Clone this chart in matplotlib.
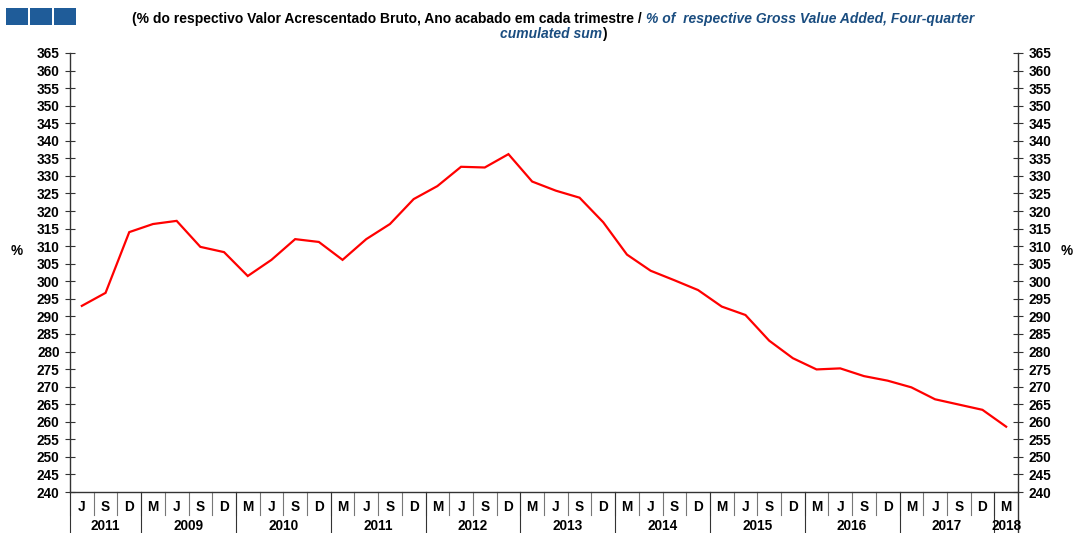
import numpy as np
import matplotlib.pyplot as plt
from matplotlib.patches import Rectangle

plt.rcParams['font.family'] = ['Liberation Sans', 'DejaVu Sans']

# Quarterly series, % of GVA (four-quarter cumulated sum)
quarters = ["J", "S", "D"] + ["M", "J", "S", "D"] * 9 + ["M"]
years = ["2011", "2009", "2010", "2011", "2012", "2013", "2014",
         "2015", "2016", "2017", "2018"]
year_len = [3, 4, 4, 4, 4, 4, 4, 4, 4, 4, 1]
values = [293.0, 296.7, 314.0, 316.3, 317.2, 309.8, 308.3, 301.5,
          306.1, 312.0, 311.2, 306.1, 312.0, 316.3, 323.4, 327.1,
          332.6, 332.4, 336.2, 328.4, 325.8, 323.8, 316.8, 307.6,
          303.0, 300.3, 297.5, 292.8, 290.4, 283.1, 278.1, 274.9,
          275.2, 273.0, 271.7, 269.8, 266.4, 264.9, 263.4, 258.6]

W, H = 1073, 533
fig = plt.figure(figsize=(W / 100, H / 100), dpi=100)
ax = fig.add_axes([70 / W, 1 - 492 / H, 948 / W, 439 / H])

x = np.arange(len(values))
ax.plot(x, values, color="#ff0000", lw=1.6, solid_joinstyle="miter")

ax.set_xlim(-0.5, len(values) - 0.5)
ax.set_ylim(240, 365)
ax.set_yticks(np.arange(240, 366, 5))
ax.set_xticks([])
ax.spines['top'].set_visible(False)
for side in ['left', 'right', 'bottom']:
    ax.spines[side].set_color("#333333")
    ax.spines[side].set_linewidth(1.0)

ax.tick_params(axis='y', which='both', direction='inout', length=7,
               width=0.8, color="#333333", labelsize=9.8,
               left=True, right=True, labelleft=True, labelright=True, pad=4)
for lab in ax.get_yticklabels():
    lab.set_fontweight('bold')

# category axis below the plot: quarters, then years
trans = ax.get_xaxis_transform()
h = 439.0
q_bot = -(515 - 492) / h
y_bot = -(533 - 492) / h
for i, q in enumerate(quarters):
    ax.text(i, -(507 - 492) / h, q, transform=trans, ha='center', va='center',
            fontsize=9.8, fontweight='bold')
    ax.plot([i - 0.5, i - 0.5], [0, q_bot], transform=trans, color="#777777",
            lw=0.8, clip_on=False)

start = -0.5
for yr, n in zip(years, year_len):
    ax.plot([start, start], [0, y_bot], transform=trans, color="#333333",
            lw=0.8, clip_on=False)
    ax.text(start + n / 2, -(526 - 492) / h, yr, transform=trans,
            ha='center', va='center', fontsize=9.8, fontweight='bold')
    start += n
ax.plot([start, start], [0, y_bot], transform=trans, color="#333333",
        lw=1.0, clip_on=False)

fig.text(17 / W, 1 - 251 / H, "%", ha='center', va='center',
         fontsize=9.8, fontweight='bold')
fig.text(1067 / W, 1 - 251 / H, "%", ha='center', va='center',
         fontsize=9.8, fontweight='bold')

# three blue squares in the corner
for x0 in [6, 30, 54]:
    fig.patches.append(Rectangle((x0 / W, 1 - 25 / H), 22 / W, 17 / H,
                                 transform=fig.transFigure,
                                 facecolor="#1f5c99", edgecolor='none'))

# two-colour subtitle
blue = "#1a4d80"
renderer = fig.canvas.get_renderer()
t1 = fig.text(132 / W, 1 - 19 / H,
              "(% do respectivo Valor Acrescentado Bruto, Ano acabado em cada trimestre / ",
              ha='left', va='center', fontsize=10, fontweight='bold')
bb = t1.get_window_extent(renderer)
fig.text(bb.x1 / W, 1 - 19 / H,
         "% of  respective Gross Value Added, Four-quarter",
         ha='left', va='center', fontsize=10, fontweight='bold',
         style='italic', color=blue)
t3 = fig.text(500 / W, 1 - 34 / H, "cumulated sum", ha='left', va='center',
              fontsize=10, fontweight='bold', style='italic', color=blue)
bb3 = t3.get_window_extent(renderer)
fig.text(bb3.x1 / W, 1 - 34 / H, ")", ha='left', va='center',
         fontsize=10, fontweight='bold')

fig.savefig("out.png", dpi=100)
